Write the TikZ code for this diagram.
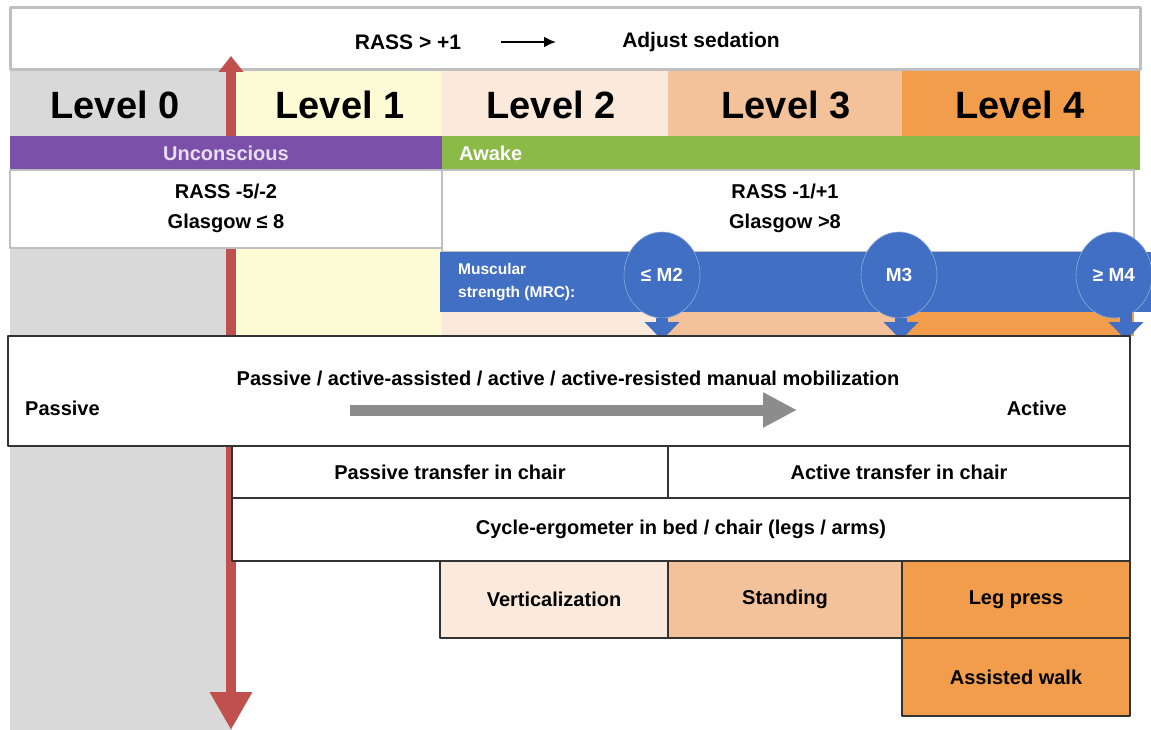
\documentclass[tikz,border=0pt]{standalone}
\usepackage{fontspec}
\setmainfont{Liberation Sans}
\usepackage{tikz}
\usetikzlibrary{arrows,arrows.meta,shapes.geometric}
\definecolor{dadada}{rgb}{0.851,0.851,0.851}
\definecolor{fdfbd6}{rgb}{0.992,0.984,0.839}
\definecolor{fbeadb}{rgb}{0.984,0.918,0.859}
\definecolor{f3c29a}{rgb}{0.953,0.761,0.604}
\definecolor{f29d4b}{rgb}{0.949,0.616,0.294}
\definecolor{pprple}{rgb}{0.478,0.314,0.659}
\definecolor{ggreen}{rgb}{0.549,0.729,0.282}
\definecolor{bbluue}{rgb}{0.255,0.435,0.765}
\definecolor{rredd}{rgb}{0.753,0.314,0.302}
\definecolor{bfbfbf}{rgb}{0.75,0.75,0.75}
\definecolor{gqgqgq}{rgb}{0.55,0.55,0.55}
\definecolor{lavndr}{rgb}{0.91,0.87,0.96}
\begin{document}
\begin{tikzpicture}[line cap=round,line join=round,x=1pt,y=-1pt,
  lvl/.style={font=\bfseries\fontsize{38}{40}\selectfont,inner sep=0pt},
  txt/.style={font=\bfseries\fontsize{20}{30}\selectfont,align=center,inner sep=0pt},
  toptxt/.style={font=\bfseries\fontsize{21}{25}\selectfont,inner sep=0pt},
  small/.style={font=\bfseries\fontsize{15.5}{23}\selectfont,align=left,inner sep=0pt,color=white},
  graybox/.style={line width=2pt,color=bfbfbf,fill=white},
  rowbox/.style={line width=1.5pt,color=black!80},
  mcirc/.style={ellipse,fill=bbluue,draw=bbluue!60!white,line width=0.6pt,minimum width=76pt,minimum height=86pt,inner sep=0pt,
    font=\bfseries\fontsize{19}{22}\selectfont,text=white},
  marrow/.style={line width=12pt,line cap=butt,color=bbluue,-{Triangle[width=34pt,length=18pt]}}]
\useasboundingbox (0,0) rectangle (1151,730);
% level columns
\fill [color=dadada] (10,70) rectangle (232,730);
\fill [color=fdfbd6] (232,70) rectangle (442,336);
\fill [color=fbeadb] (442,70) rectangle (668,336);
\fill [color=f3c29a] (668,70) rectangle (902,336);
\fill [color=f29d4b] (902,70) rectangle (1140,136);
\fill [color=f29d4b] (902,136) rectangle (1134,336);
% top box
\draw [line width=3pt,color=bfbfbf,fill=white] (10,8) rectangle (1140,70);
\node [toptxt] (rassup) at (408,42) {RASS > +1};
\node [toptxt] (adjust) at (701,42) {Adjust sedation};
\draw [line width=2pt,line cap=butt,-{Latex[length=12pt,width=11pt]}] ([xshift=40pt]rassup.east) -- ([xshift=-66pt]adjust.west);
% red axis
\coordinate (axtop) at (231,56);
\coordinate (axbot) at (231,730);
\draw [line width=10pt,line cap=butt,color=rredd,{Triangle[width=24pt,length=16pt]}-{Triangle[width=40pt,length=38pt]}] (axtop) -- (axbot);
% levels
\node [lvl] (lvl0) at (115,105) {Level 0};
\node [lvl] (lvl1) at (340,105) {Level 1};
\node [lvl] (lvl2) at (551,105) {Level 2};
\node [lvl] (lvl3) at (786,105) {Level 3};
\node [lvl] (lvl4) at (1020,105) {Level 4};
% state bars
\fill [color=pprple] (10,136) rectangle (442,170);
\node [txt,color=lavndr] (uncons) at (226,153) {Unconscious};
\fill [color=ggreen] (442,136) rectangle (1140,170);
\node [txt,color=white,anchor=west] (awake) at (459,153) {Awake};
% RASS boxes
\draw [graybox] (10,170) rectangle (442,248);
\node [txt] (rassleft) at (226,208) {RASS -5/-2\\Glasgow ≤ 8};
\draw [graybox] (442,170) rectangle (1134,252);
\node [txt] (rassright) at (785,208) {RASS -1/+1\\Glasgow >8};
% muscular strength
\fill [color=bbluue] (440,252) rectangle (1151,312);
\node [small,anchor=west] (mrc) at (458,282) {Muscular\\strength (MRC):};
\node [mcirc] (m2) at (662,275) {≤ M2};
\node [mcirc] (m3) at (899,275) {M3};
\node [mcirc] (m4) at (1114,275) {≥ M4};
\coordinate (m2tip) at (662,340);
\coordinate (m3tip) at (901,340);
\coordinate (m4tip) at (1126,340);
\draw [marrow] (m2.south) -- (m2tip);
\draw [marrow] (m3.south -| m3tip) -- (m3tip);
\draw [marrow] (m4tip |- 310,312) -- (m4tip);
% mobilization
\draw [rowbox,fill=white] (8,336) rectangle (1130,446);
\node [txt] (manual) at (568,378) {Passive / active-assisted / active / active-resisted manual mobilization};
\node [txt,anchor=west] (passive) at (25,408) {Passive};
\node [txt,anchor=east] (active) at (1067,408) {Active};
\coordinate (gstart) at (350,410);
\coordinate (gend) at (797,410);
\draw [line width=11pt,line cap=butt,color=gqgqgq,-{Triangle[width=33pt,length=34pt]}] (gstart) -- (gend);
% rows
\draw [rowbox,fill=white] (232,446) rectangle (668,498) node [pos=.5,txt,color=black] (ptrans) {Passive transfer in chair};
\draw [rowbox,fill=white] (668,446) rectangle (1130,498) node [pos=.5,txt,color=black] (atrans) {Active transfer in chair};
\draw [rowbox,fill=white] (232,498) rectangle (1130,561) node [pos=.5,txt,color=black] (cycle) {Cycle-ergometer in bed / chair (legs / arms)};
\draw [rowbox,fill=fbeadb] (440,561) rectangle (668,638) node [pos=.5,txt,color=black] (vert) {Verticalization};
\draw [rowbox,fill=f3c29a] (668,561) rectangle (902,638) node [pos=.5,txt,color=black] (stand) {Standing};
\draw [rowbox,fill=f29d4b] (902,561) rectangle (1130,638) node [pos=.5,txt,color=black] (legp) {Leg press};
\draw [rowbox,fill=f29d4b] (902,638) rectangle (1130,716) node [pos=.5,txt,color=black] (walk) {Assisted walk};
\end{tikzpicture}
\end{document}
